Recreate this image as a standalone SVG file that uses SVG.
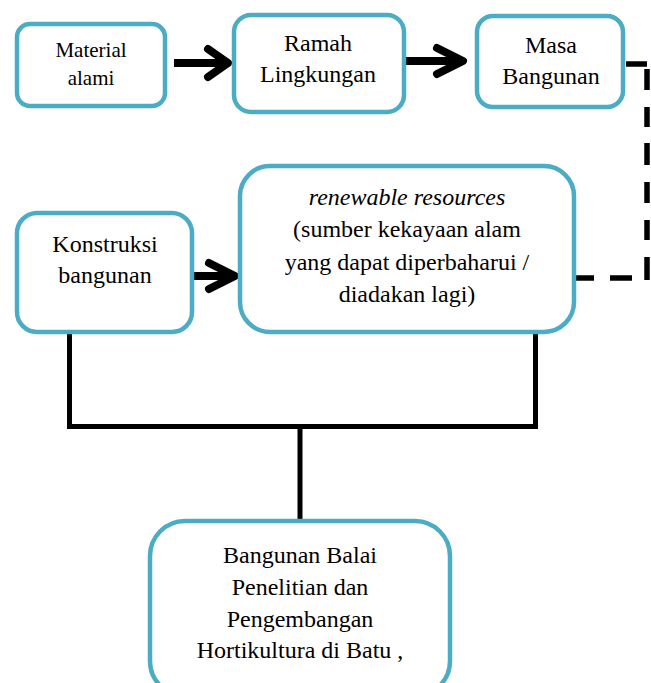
<svg xmlns="http://www.w3.org/2000/svg" width="651" height="683" viewBox="0 0 651 683">
<style>
.box{fill:#ffffff;stroke:#4bacc6;stroke-width:4.5}
text{font-family:'Liberation Serif','Times New Roman','DejaVu Serif',serif;fill:#000;text-anchor:middle;font-size:24px}
.shaft{stroke:#000;stroke-width:8;fill:none}
.head{stroke:#000;stroke-width:8;fill:none;stroke-linecap:round;stroke-linejoin:round}
.dash{stroke:#000;stroke-width:5.5;fill:none}
.line{stroke:#000;stroke-width:5;fill:none;stroke-linecap:square}
</style>
<rect width="651" height="683" fill="#ffffff"/>
<g id="connectors">
<line class="shaft" x1="174" y1="63" x2="226" y2="63"/>
<polyline class="head" points="208,49 228,63 208,77"/>
<line class="shaft" x1="404" y1="61" x2="460" y2="61"/>
<polyline class="head" points="437,48 463,61 437,74"/>
<line class="shaft" x1="192" y1="276" x2="232" y2="276"/>
<polyline class="head" points="209,263 235,276 209,289"/>
<line class="dash" x1="626" y1="64" x2="647" y2="64"/>
<line class="dash" x1="647" y1="69" x2="647" y2="90"/>
<line class="dash" x1="647" y1="107" x2="647" y2="127"/>
<line class="dash" x1="647" y1="143" x2="647" y2="165"/>
<line class="dash" x1="647" y1="182" x2="647" y2="203"/>
<line class="dash" x1="647" y1="220" x2="647" y2="240"/>
<line class="dash" x1="647" y1="257" x2="647" y2="280"/>
<line class="dash" x1="610" y1="278" x2="632" y2="278"/>
<line class="dash" x1="574" y1="278" x2="594" y2="278"/>
<polyline class="line" points="69.5,334 69.5,426.5 535.5,426.5 535.5,334"/>
<line class="line" x1="300" y1="426.5" x2="300" y2="519"/>
</g>
<g id="n1">
<rect class="box" x="17" y="24" width="148" height="82" rx="13"/>
<text x="91" y="57" style="font-size:21px">Material</text>
<text x="91" y="85" style="font-size:21px">alami</text>
</g>
<g id="n2">
<rect class="box" x="234" y="15" width="170" height="97" rx="17"/>
<text x="318" y="51">Ramah</text>
<text x="318" y="82">Lingkungan</text>
</g>
<g id="n3">
<rect class="box" x="477" y="16" width="146" height="91" rx="16"/>
<text x="551" y="53">Masa</text>
<text x="551" y="84">Bangunan</text>
</g>
<g id="n4">
<rect class="box" x="17" y="213" width="175" height="119" rx="20"/>
<text x="105" y="252">Konstruksi</text>
<text x="105" y="283">bangunan</text>
</g>
<g id="n5">
<rect class="box" x="240" y="166" width="334" height="166" rx="30"/>
<text x="407" y="205" font-style="italic">renewable resources</text>
<text x="407" y="237">(sumber kekayaan alam</text>
<text x="407" y="270">yang dapat diperbaharui /</text>
<text x="407" y="302">diadakan lagi)</text>
</g>
<g id="n6">
<rect class="box" x="150" y="521" width="300" height="175" rx="35"/>
<text x="300" y="563">Bangunan Balai</text>
<text x="300" y="595">Penelitian dan</text>
<text x="300" y="627">Pengembangan</text>
<text x="300" y="658">Hortikultura di Batu ,</text>
</g>
</svg>
